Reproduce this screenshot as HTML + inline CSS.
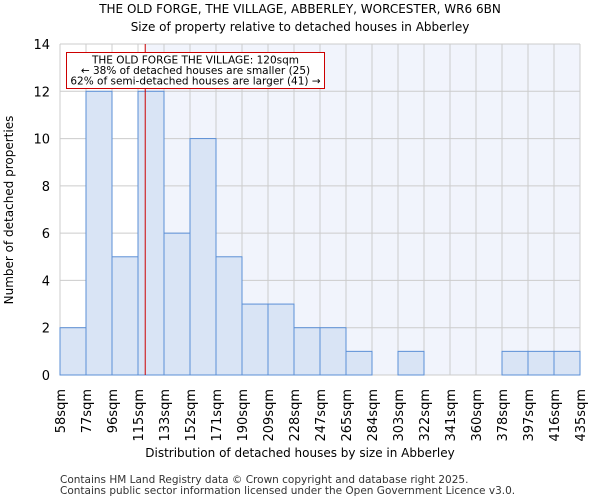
<!DOCTYPE html>
<html><head><meta charset="utf-8"><style>
body{margin:0;background:#fff;font-family:"DejaVu Sans","Liberation Sans",sans-serif;}
</style></head><body>
<svg width="600" height="500" xmlns="http://www.w3.org/2000/svg" font-family="DejaVu Sans, Liberation Sans, sans-serif">
<text x="300" y="13" text-anchor="middle" font-size="12">THE OLD FORGE, THE VILLAGE, ABBERLEY, WORCESTER, WR6 6BN</text>
<text x="300" y="31" text-anchor="middle" font-size="12">Size of property relative to detached houses in Abberley</text>
<g id="plot"></g>
<text x="300" y="457" text-anchor="middle" font-size="12">Distribution of detached houses by size in Abberley</text>
<text transform="translate(13,210) rotate(-90)" text-anchor="middle" font-size="12">Number of detached properties</text>
<text x="60" y="483" font-size="10.5" fill="#333">Contains HM Land Registry data © Crown copyright and database right 2025.</text>
<text x="60" y="494" font-size="10.5" fill="#333">Contains public sector information licensed under the Open Government Licence v3.0.</text>
</svg>
<script>
const binLabels=["58sqm","77sqm","96sqm","115sqm","133sqm","152sqm","171sqm","190sqm","209sqm","228sqm","247sqm","265sqm","284sqm","303sqm","322sqm","341sqm","360sqm","378sqm","397sqm","416sqm","435sqm"];
const binEdges=[58,77,96,115,133,152,171,190,209,228,247,265,284,303,322,341,360,378,397,416,435];
const counts=[2,12,5,12,6,10,5,3,3,2,2,1,0,1,0,0,0,1,1,1];
const yTicks=[0,2,4,6,8,10,12,14];
const markerValue=120;
const ns="http://www.w3.org/2000/svg";
const X0=60,X1=580,Y0=375,Y1=44,YMAX=14;
const n=counts.length,bw=(X1-X0)/n;
const xi=i=>X0+i*bw;
const y=v=>Y0-(v/YMAX)*(Y0-Y1);
function xv(v){for(let i=0;i<binEdges.length-1;i++){if(v<=binEdges[i+1])return xi(i)+(v-binEdges[i])/(binEdges[i+1]-binEdges[i])*bw;}return X1;}
const g=document.getElementById('plot');
function mk(t,a){const e=document.createElementNS(ns,t);for(const k in a)e.setAttribute(k,a[k]);g.appendChild(e);return e;}
const mx=xv(markerValue);
let e=mk('rect',{x:mx,y:Y1,width:X1-mx,height:Y0-Y1,fill:'#f1f4fc'});


binEdges.forEach((b,i)=>{const l=mk('line',{x1:xi(i),x2:xi(i),y1:Y1,y2:Y0,stroke:'#cccccc'});

});
yTicks.forEach(t=>{const l=mk('line',{x1:X0,x2:X1,y1:y(t),y2:y(t),stroke:'#cccccc'});


const tx=mk('text',{x:X0-10,y:y(t)+5,'text-anchor':'end','font-size':'13'});tx.textContent=t;

});
counts.forEach((c,i)=>{if(c<=0)return;const r=mk('rect',{x:xi(i),y:y(c),width:bw,height:Y0-y(c),fill:'#d9e4f5',stroke:'#5b8fd6','stroke-width':1});

});
binLabels.forEach((s,i)=>{const t=mk('text',{transform:`translate(${xi(i)+5},${Y0+14}) rotate(-90)`,'text-anchor':'end','font-size':'13'});t.textContent=s;

});
e=mk('line',{x1:mx,x2:mx,y1:Y1,y2:Y0,stroke:'#cc0000','stroke-width':1});


e=mk('rect',{x:66.5,y:52.5,width:258,height:36,fill:'#fff',stroke:'#cc0000'});


["THE OLD FORGE THE VILLAGE: 120sqm","← 38% of detached houses are smaller (25)","62% of semi-detached houses are larger (41) →"].forEach((s,i)=>{const t=mk('text',{x:195.5,y:63.5+i*10.5,'text-anchor':'middle','font-size':'10.5'});t.textContent=s;

});
</script>
</body></html>
